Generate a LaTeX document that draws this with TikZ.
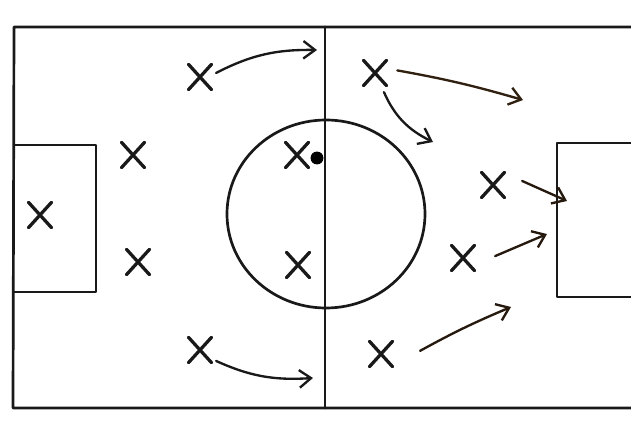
\documentclass[tikz,border=0pt]{standalone}
\usepackage{tikz}
\usetikzlibrary{positioning,arrows.meta,shapes.misc}

\begin{document}
\begin{tikzpicture}[
  x=0.03cm, y=-0.03cm,
  line/.style={draw=black!90, line width=2.3pt, line join=round, line cap=round},
  player/.style={cross out, draw=black!90, line width=2.8pt, minimum width=17pt, minimum height=19pt,
                 inner sep=0pt, line cap=round},
  run/.style={-{Straight Barb[length=10pt, width=15pt, line width=2pt]}, line width=2pt,
              draw=#1, shorten <=2pt, line cap=round},
  run/.default=black!90,
]
\useasboundingbox (0,0) rectangle (631,428);

% pitch
\draw[line] (631,27) -- (14,27) -- (13,408) -- (631,408);
\draw[line] (325,27) -- (325,408);
\draw[line] (14,145) -- (96,145) -- (96,292) -- (14,292);
\draw[line] (631,143) -- (557,143) -- (557,297) -- (631,297);
\draw[line] (326,214) ellipse [x radius=99, y radius=94];

% players
\node[player] (lw)  at (200,77)  {};
\node[player] (lcb) at (133,155) {};
\node[player] (gk)  at (40,215)  {};
\node[player] (rcb) at (138,262) {};
\node[player] (rw)  at (200,350) {};
\node[player] (cf1) at (297,155) {};
\node[player] (cf2) at (298,265) {};
\node[player] (am)  at (375,73)  {};
\node[player] (st1) at (493,185) {};
\node[player] (st2) at (463,258) {};
\node[player] (rm)  at (381,354) {};

% ball
\node[circle, fill=black, inner sep=0pt, minimum size=11pt] (ball) at (317,158) {};

% arrow ends
\coordinate (e1) at (317,50);
\coordinate (e2) at (313,378);
\coordinate (e3) at (523,100);
\coordinate (e4) at (433,142);
\coordinate (e5) at (567,201);
\coordinate (e6) at (547,234);
\coordinate (e7) at (511,307);

% runs
\draw[run] ([shift={(14,-3)}]lw.center) to[bend left=14] (e1);
\draw[run] ([shift={(14,10)}]rw.center) to[bend right=14] (e2);
\draw[run=black!75!brown] ([shift={(20,-3)}]am.center) to[bend left=3] (e3);
\draw[run] ([shift={(8,17)}]am.center) to[bend right=20] (e4);
\draw[run=black!80!brown] ([shift={(27,-5)}]st1.center) -- (e5);
\draw[run=black!80!brown] ([shift={(30,-1)}]st2.center) -- (e6);
\draw[run=black!80!brown] ([shift={(37,-2)}]rm.center) to[bend left=3] (e7);

\end{tikzpicture}
\end{document}
